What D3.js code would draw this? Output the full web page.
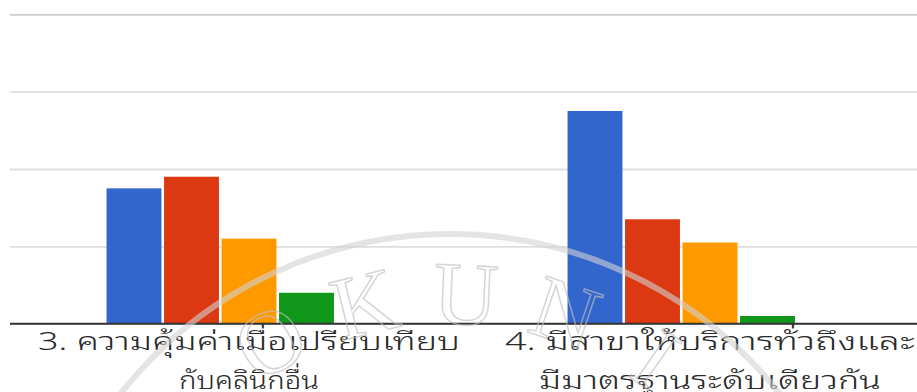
<!DOCTYPE html>
<html>
<head>
<meta charset="utf-8">
<script src="https://cdn.jsdelivr.net/npm/d3@7"></script>
<style>
  html, body { margin: 0; padding: 0; background: #fff; }
  svg { display: block; }
</style>
</head>
<body>
<svg id="chart" width="917" height="392"></svg>
<script>
// Survey answers per question, one array per rating level
const categories = ["q3", "q4"];
const categoryLabels = [
  ["3. ความคุ้มค่าเมื่อเปรียบเทียบ", "กับคลินิกอื่น"],
  ["4. มีสาขาให้บริการทั่วถึงและ", "มีมาตรฐานระดับเดียวกัน"]
];
const seriesNames = ["มากที่สุด", "มาก", "ปานกลาง", "น้อย", "น้อยที่สุด"];
const levelMost = [35, 55];
const levelHigh = [38, 27];
const levelMid = [22, 21];
const levelLow = [8, 2];
const levelLeast = [0, 0];
const seriesColors = ["#3366cc", "#dc3912", "#ff9900", "#109618", "#990099"];
const yTicks = [0, 20, 40, 60, 80];
const watermarkLetters = ["O", "K", "U", "N", "I"];

const seriesValues = [levelMost, levelHigh, levelMid, levelLow, levelLeast];

const svg = d3.select("#chart");
const plotLeft = 10, plotRight = 917;
const yTop = 14.3, yBase = 323.7;

const y = d3.scaleLinear().domain([0, 80]).range([yBase, yTop]);

// Each question gets a 461px band; the chart continues past the right edge
const x0 = d3.scaleBand().domain(categories).range([18.5, 940.5]).paddingInner(0).paddingOuter(0);
const groupPad = (x0.bandwidth() - 287.5) / 2;
const x1 = d3.scaleBand().domain(d3.range(seriesNames.length))
  .range([groupPad, x0.bandwidth() - groupPad]).paddingInner(0.045).paddingOuter(0.0225);

// Horizontal gridlines
const yAxis = d3.axisLeft(y).tickValues(yTicks).tickSize(-(plotRight - plotLeft)).tickFormat("");
const gGrid = svg.append("g").attr("transform", `translate(${plotLeft},0)`).call(yAxis);
gGrid.select(".domain").remove();
gGrid.selectAll(".tick line")
  .attr("stroke", d => d === 80 ? "#cdcdcd" : "#dedede")
  .attr("stroke-width", 1.8);

// Bars
const flat = [];
categories.forEach((c, ci) => {
  seriesValues.forEach((vals, si) => {
    flat.push({ cat: c, s: si, v: vals[ci] });
  });
});

svg.append("g").selectAll("rect")
  .data(flat.filter(d => d.v > 0))
  .join("rect")
  .attr("x", d => x0(d.cat) + x1(d.s))
  .attr("width", x1.bandwidth())
  .attr("y", d => y(d.v))
  .attr("height", d => y(0) - y(d.v))
  .attr("fill", d => seriesColors[d.s]);

// Baseline
svg.append("line")
  .attr("x1", plotLeft).attr("x2", plotRight)
  .attr("y1", y(0)).attr("y2", y(0))
  .attr("stroke", "#333").attr("stroke-width", 2);

// Category labels, widened to the wide looped Thai face
const labelWidths = [[422, 140], [410, 342]];
const labels = svg.append("g")
  .attr("font-family", "'Noto Sans Thai Looped', 'Noto Sans Thai', Tahoma, 'Noto Sans', sans-serif")
  .attr("font-size", 25)
  .attr("font-weight", 300)
  .attr("fill", "#2a2a2a")
  .attr("text-anchor", "middle");

categories.forEach((c, ci) => {
  const cx = x0(c) + x0.bandwidth() / 2;
  categoryLabels[ci].forEach((line, li) => {
    labels.append("text")
      .attr("x", cx)
      .attr("y", 350 + li * 39)
      .attr("textLength", labelWidths[ci][li])
      .attr("lengthAdjust", "spacingAndGlyphs")
      .text(line);
  });
});

// Faint university seal watermark over the chart
const wcx = 450, wcy = 654;
const wm = svg.append("g").attr("pointer-events", "none");
wm.append("circle")
  .attr("cx", wcx).attr("cy", wcy).attr("r", 420)
  .attr("fill", "none")
  .attr("stroke", "rgba(210,210,210,0.6)")
  .attr("stroke-width", 6);
watermarkLetters.forEach((ch, i) => {
  const ang = -29.9 + i * 16.2;
  const rad = ang * Math.PI / 180;
  const r = 330;
  const px = wcx + r * Math.sin(rad);
  const py = wcy - r * Math.cos(rad);
  wm.append("text")
    .attr("transform", `translate(${px},${py}) rotate(${ang})`)
    .attr("text-anchor", "middle")
    .attr("font-family", "'Liberation Serif', 'DejaVu Serif', serif")
    .attr("font-size", 90)
    .attr("fill", "none")
    .attr("stroke", "rgba(190,190,190,0.65)")
    .attr("stroke-width", 1.5)
    .text(ch);
});
</script>
</body>
</html>
